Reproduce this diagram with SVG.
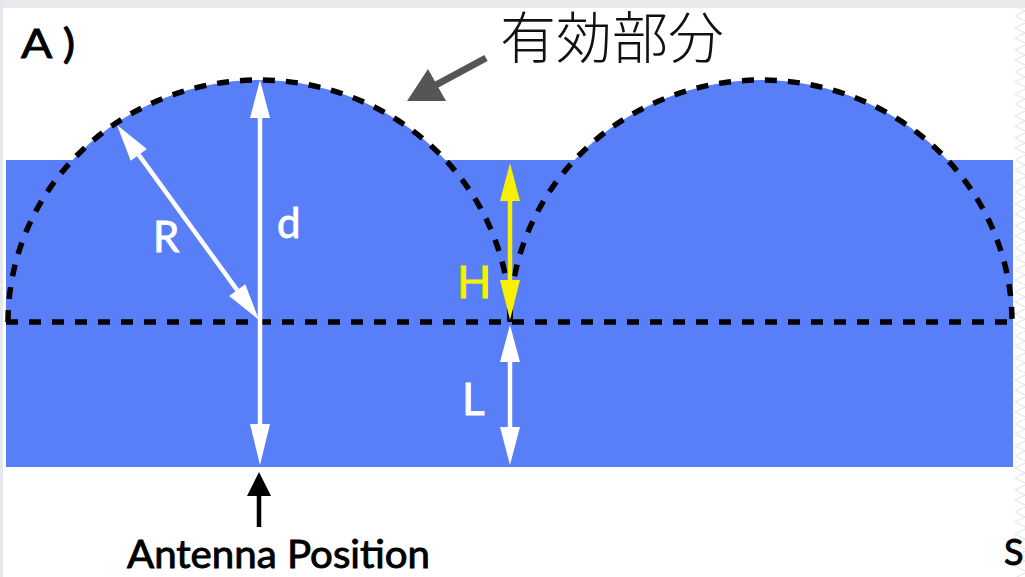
<svg xmlns="http://www.w3.org/2000/svg" width="1025" height="577" viewBox="0 0 1025 577">
<style>
.lbl{font-family:Lato,"Open Sans","Liberation Sans",sans-serif;font-weight:400;stroke-width:0.9;}
.dash{fill:none;stroke:#000;stroke-width:5.5;stroke-dasharray:12 11;}
.wline{stroke:#fff;stroke-width:4.5;}
.whead{fill:#fff;}
.yline{stroke:#f5f100;stroke-width:4.5;}
.yhead{fill:#f5f100;}
.blue{fill:#587ef8;}
</style>
<defs>
<pattern id="hatch" x="1014" y="0" width="11" height="22" patternUnits="userSpaceOnUse">
<polyline points="11,1 1,6 11,11 1,16 11,21" fill="none" stroke="#d9d9dc" stroke-width="0.8"/>
</pattern>
</defs>
<rect x="0" y="0" width="1025" height="577" fill="#fff"/>
<rect x="0" y="0" width="1025" height="8" fill="#e9eaed"/>
<rect x="0" y="0" width="3" height="577" fill="#e6e7ea"/>
<rect x="1014" y="8" width="11" height="569" fill="url(#hatch)"/>

<g id="field">
<rect class="blue" x="6" y="160" width="1007" height="307"/>
<path class="blue" d="M8,322 A251,242 0 0 1 510,322 Z"/>
<path class="blue" d="M510,322 A251,242 0 0 1 1012,322 Z"/>
</g>

<g id="dome-left"><path class="dash" d="M8,322 A251,242 0 0 1 510,322"/></g>
<g id="dome-right"><path class="dash" d="M510,322 A251,242 0 0 1 1012,322"/></g>
<g id="baseline"><path class="dash" d="M6,322 H1013"/></g>

<g id="connectors">
<!-- d arrow -->
<line class="wline" x1="260" y1="112" x2="260" y2="428"/>
<polygon class="whead" points="260,80 250,118 270,118"/>
<polygon class="whead" points="260,465 250,424 270,424"/>
<!-- R arrow -->
<line class="wline" x1="138.8" y1="154.9" x2="237.2" y2="290.1"/>
<polygon class="whead" points="117,125 130.7,160.8 146.9,149"/>
<polygon class="whead" points="259,320 229.1,296 245.3,284.2"/>
<!-- H arrow -->
<line class="yline" x1="510" y1="195" x2="510" y2="285"/>
<polygon class="yhead" points="510,163 500,201 520,201"/>
<polygon class="yhead" points="510,320 500,280 520,280"/>
<!-- L arrow -->
<line class="wline" x1="510" y1="358" x2="510" y2="430"/>
<polygon class="whead" points="510,325 500,362 520,362"/>
<polygon class="whead" points="510,465 500,427 520,427"/>
<!-- antenna arrow -->
<line stroke="#000" stroke-width="4.5" x1="259" y1="492" x2="259" y2="527"/>
<polygon fill="#000" points="259,472 247,496 271,496"/>
<!-- pointer to effective part -->
<line stroke="#555" stroke-width="7" x1="486" y1="58" x2="434" y2="86"/>
<polygon fill="#555" points="407,101 428,69 446,101"/>
</g>

<g id="labels">
<text class="lbl" x="21" y="58" font-size="40" fill="#000" stroke="#000" textLength="54" lengthAdjust="spacingAndGlyphs">A )</text>
<text x="500" y="58" font-size="56" font-weight="300" fill="#111" font-family="'Noto Sans CJK JP','Noto Sans CJK SC',sans-serif">有効部分</text>
<text class="lbl" x="153" y="252" font-size="42" fill="#fff" stroke="#fff">R</text>
<text class="lbl" x="277" y="238" font-size="42" fill="#fff" stroke="#fff">d</text>
<text class="lbl" x="457" y="298" font-size="45" fill="#f5f100" stroke="#f5f100">H</text>
<text class="lbl" x="462" y="415" font-size="44" fill="#fff" stroke="#fff">L</text>
<text class="lbl" x="127" y="568" font-size="38" fill="#000" stroke="#000" textLength="303" lengthAdjust="spacingAndGlyphs">Antenna Position</text>
<text class="lbl" x="1004" y="565" font-size="36" fill="#000" stroke="#000">S</text>
</g>
</svg>
